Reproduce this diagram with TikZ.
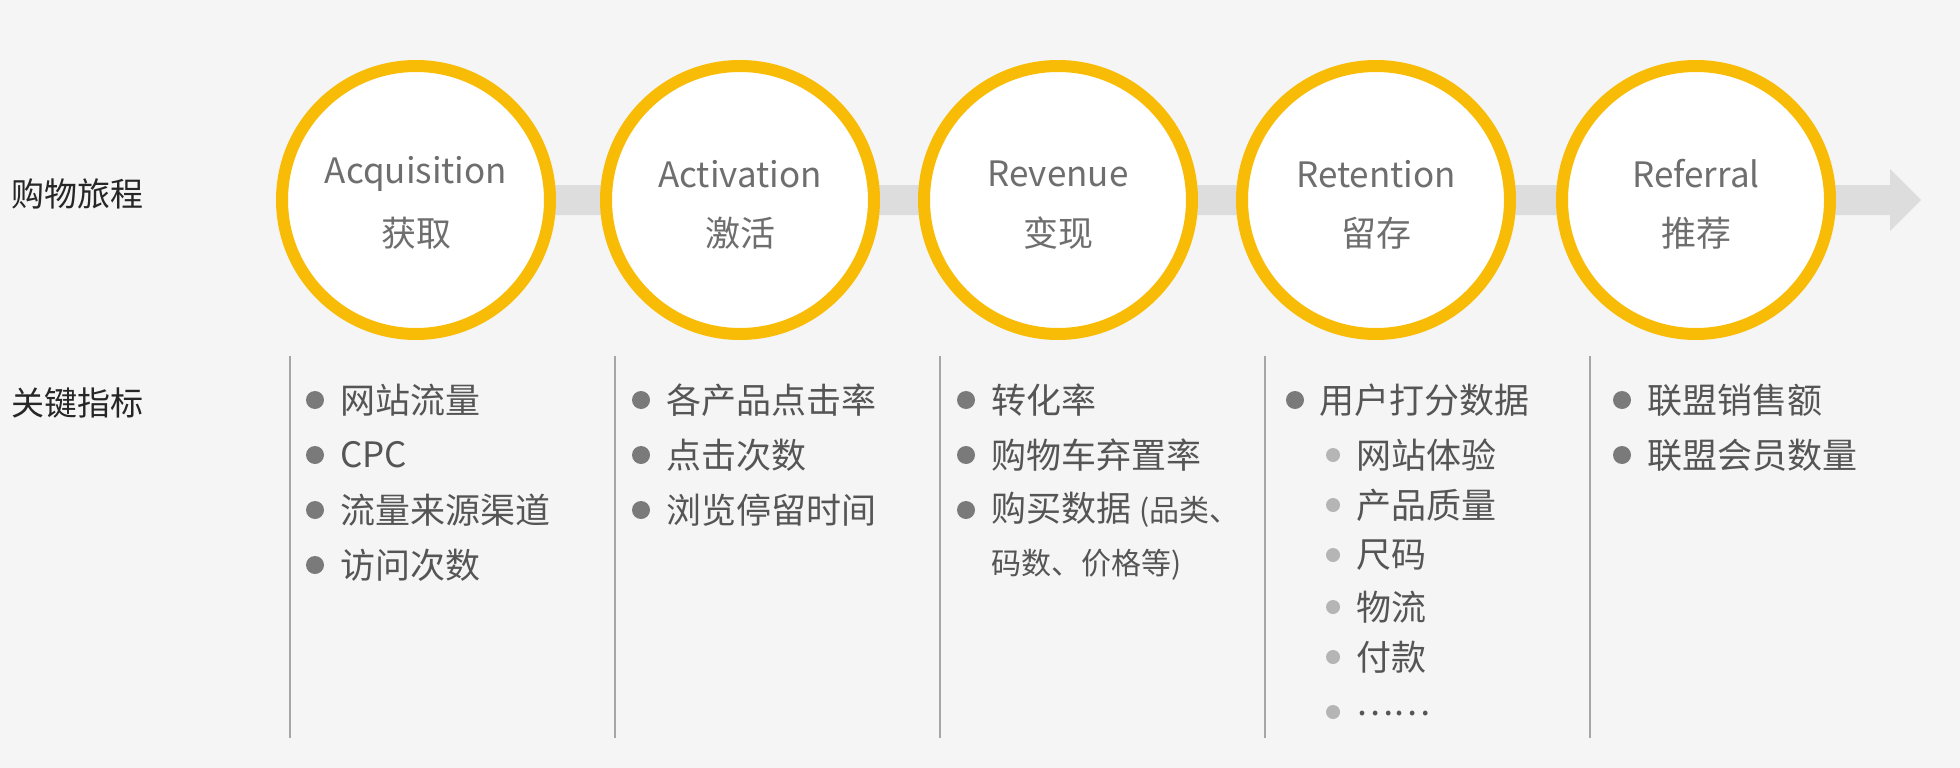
\documentclass[tikz,border=0pt]{standalone}
\usepackage{fontspec}
\setmainfont{Noto Sans CJK SC}
\begin{document}
\begin{tikzpicture}[x=1pt,y=-1pt,
  circ/.style={circle,draw=yel,line width=12pt,fill=white,minimum size=268pt,inner sep=0pt},
  ctext/.style={text=ctx,font=\fontsize{35}{35}\selectfont,align=center},
  lab/.style={anchor=west,text=black!85,font=\fontsize{33}{33}\selectfont},
  item/.style={anchor=west,text=itx,font=\fontsize{35}{35}\selectfont,inner sep=0pt},
  dot/.style={circle,fill=dotc,inner sep=0pt,minimum size=18pt},
  sdot/.style={circle,fill=sdotc,inner sep=0pt,minimum size=14pt},
  vline/.style={draw=gray!70,line width=1.2pt}]
\definecolor{bg}{HTML}{F5F5F5}
\definecolor{yel}{HTML}{F9BC06}
\definecolor{ctx}{HTML}{6E6E6E}
\definecolor{itx}{HTML}{555555}
\definecolor{dotc}{HTML}{7A7A7A}
\definecolor{sdotc}{HTML}{B5B5B5}
\definecolor{band}{HTML}{DDDDDD}
\fill[bg] (0,0) rectangle (1960,768);
\useasboundingbox (0,0) rectangle (1960,768);
% band with arrow
\fill[band] (416,185) -- (1890,185) -- (1890,169) -- (1921,200) -- (1890,231) -- (1890,215) -- (416,215) -- cycle;
\foreach \n/\x/\a/\b in {c1/416/Acquisition/获取,c2/740/Activation/激活,c3/1058/Revenue/变现,c4/1376/Retention/留存,c5/1696/Referral/推荐}{
  \node[circ] (\n) at (\x,200) {};
  \node[ctext] (\n a) at (\x,174) {\a};
  \node[ctext] (\n b) at (\x,233) {\b};
}
\node[lab] (l1) at (8,194) {购物旅程};
\node[lab] (l2) at (8,403) {关键指标};
\foreach \n/\x in {v1/290,v2/615,v3/940,v4/1265,v5/1590}{
  \coordinate (\n t) at (\x,356); \coordinate (\n b) at (\x,738);
  \draw[vline] (\n t) -- (\n b);
}
% column 1
\foreach \i/\y/\t in {1/400/网站流量,2/455/CPC,3/510/流量来源渠道,4/565/访问次数}{
  \node[dot] (a\i d) at (315,\y) {}; \node[item] (a\i) at (340,\y) {\t};}
\foreach \i/\y/\t in {1/400/各产品点击率,2/455/点击次数,3/510/浏览停留时间}{
  \node[dot] (b\i d) at (641,\y) {}; \node[item] (b\i) at (666,\y) {\t};}
\foreach \i/\y/\t in {1/400/转化率,2/455/购物车弃置率}{
  \node[dot] (c\i d) at (966,\y) {}; \node[item] (c\i) at (991,\y) {\t};}
\node[dot] (c3d) at (966,510) {};
\node[item] (c3) at (991,510) {购买数据 {\fontsize{30}{30}\selectfont(品类、}};
\node[item,font=\fontsize{30}{30}\selectfont] (c4) at (991,565) {码数、价格等)};
\node[dot] (d1d) at (1295,400) {}; \node[item] (d1) at (1319,400) {用户打分数据};
\foreach \i/\y/\t in {2/455/网站体验,3/505/产品质量,4/555/尺码,5/607/物流,6/657/付款}{
  \node[sdot] (d\i d) at (1333,\y) {}; \node[item] (d\i) at (1356,\y) {\t};}
\node[sdot] (d7d) at (1333,712) {}; \node[item] (d7) at (1356,714) {……};
\foreach \i/\y/\t in {1/400/联盟销售额,2/455/联盟会员数量}{
  \node[dot] (e\i d) at (1622,\y) {}; \node[item] (e\i) at (1647,\y) {\t};}
\end{tikzpicture}
\end{document}
